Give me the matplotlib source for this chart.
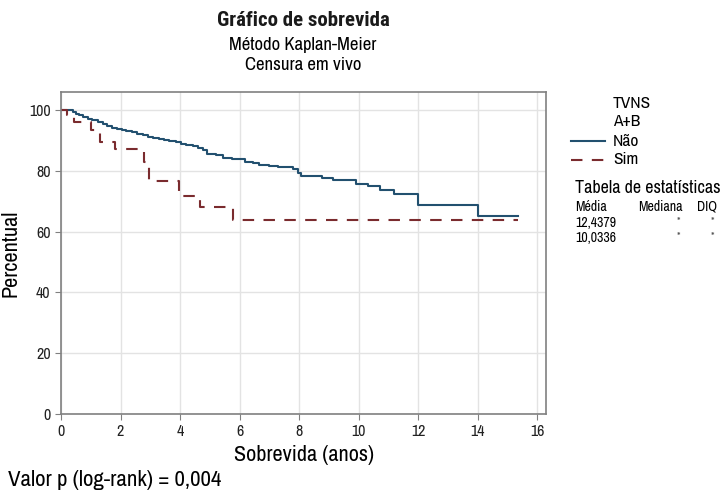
import matplotlib
matplotlib.use('Agg')
import matplotlib.pyplot as plt
from matplotlib.lines import Line2D

plt.rcParams['font.family'] = ['Archivo Narrow', 'Roboto Condensed', 'DejaVu Sans']

# Kaplan-Meier steps (time in years, survival in %)
nao_t = [0, 0.41, 0.52, 0.62, 0.75, 0.9, 1.03, 1.25, 1.4, 1.53, 1.7, 1.87, 2.05, 2.2,
         2.38, 2.54, 2.75, 2.93, 3.1, 3.3, 3.45, 3.64, 3.85, 4.03, 4.2, 4.42, 4.6,
         4.76, 4.92, 5.2, 5.43, 5.76, 6.2, 6.45, 6.65, 7.0, 7.3, 7.8, 7.95, 8.06,
         8.76, 9.15, 9.92, 10.33, 10.72, 11.2, 12.01, 14.03, 15.37]
nao_v = [100, 99.3, 98.9, 98.3, 97.8, 97.2, 96.7, 96.1, 95.4, 94.7, 94.3, 93.9, 93.5, 93.1,
         92.7, 92.3, 91.8, 91.2, 90.9, 90.6, 90.2, 89.8, 89.4, 89.0, 88.6, 88.2, 87.5,
         86.8, 85.6, 85.1, 84.3, 83.8, 83.1, 82.5, 82.1, 81.7, 81.2, 80.5, 79.2, 78.4,
         77.6, 77.0, 75.8, 75.1, 73.6, 72.3, 68.8, 65.1, 65.1]

sim_t = [0, 0.2, 0.45, 1.0, 1.3, 1.8, 2.8, 2.95, 3.97, 4.67, 5.77, 15.37]
sim_v = [100, 98.3, 96.1, 93.6, 89.5, 87.3, 82.9, 76.6, 71.6, 68.2, 63.8, 63.8]

x_ticks = [0, 2, 4, 6, 8, 10, 12, 14, 16]
y_ticks = [0, 20, 40, 60, 80, 100]

stats_media = ['12,4379', '10,0336']

fig = plt.figure(figsize=(7.25, 4.92), dpi=100)
ax = fig.add_axes([61/725, 1-414/492, (546-61)/725, (414-92)/492])

ax.step(nao_t, nao_v, where='post', color='#22506f', lw=1.5)
ax.step(sim_t, sim_v, where='post', color='#7a2b2e', lw=1.5, dashes=(5.5, 4.5))

ax.set_xlim(0, 16.3)
ax.set_ylim(0, 106)
ax.set_xticks(x_ticks)
ax.set_yticks(y_ticks)
ax.grid(True, color='#e3e3e3', lw=1)
ax.set_axisbelow(True)
for s in ax.spines.values():
    s.set_color('#808080')
    s.set_linewidth(1.2)
ax.tick_params(colors='#808080', labelcolor='#222222', labelsize=11.5, length=4)

ax.set_xlabel('Sobrevida (anos)', fontsize=16, labelpad=4)
ax.set_ylabel('Percentual', fontsize=16, labelpad=6)

fig.text(303/725, 1-21/492, 'Gráfico de sobrevida', ha='center', va='center',
         fontsize=15, fontweight='bold', color='#1a1a1a',
         family=['Roboto Condensed', 'DejaVu Sans'])
fig.text(303/725, 1-45/492, 'Método Kaplan-Meier', ha='center', va='center', fontsize=13.5)
fig.text(303/725, 1-65/492, 'Censura em vivo', ha='center', va='center', fontsize=13.5)

fig.text(8/725, 1-480/492, 'Valor p (log-rank) = 0,004', ha='left', va='center', fontsize=16.5)

# legend
fig.text(613/725, 1-103/492, 'TVNS', ha='left', va='center', fontsize=12.5)
fig.text(613/725, 1-122/492, 'A+B', ha='left', va='center', fontsize=12.5)
fig.text(613/725, 1-141/492, 'Não', ha='left', va='center', fontsize=12.5)
fig.text(613/725, 1-160/492, 'Sim', ha='left', va='center', fontsize=12.5)
fig.add_artist(Line2D([571/725, 605/725], [1-141/492, 1-141/492], color='#22506f', lw=1.5))
fig.add_artist(Line2D([571/725, 605/725], [1-160/492, 1-160/492], color='#7a2b2e', lw=1.5,
                      dashes=(5.5, 4.5)))

fig.text(575/725, 1-188/492, 'Tabela de estatísticas', ha='left', va='center', fontsize=13)
fig.text(575/725, 1-207/492, 'Média', ha='left', va='center', fontsize=10)
fig.text(683/725, 1-207/492, 'Mediana', ha='right', va='center', fontsize=10)
fig.text(697/725, 1-207/492, 'DIQ', ha='left', va='center', fontsize=10)
for i, m in enumerate(stats_media):
    y = 1 - (223 + 15*i)/492
    fig.text(575/725, y, m, ha='left', va='center', fontsize=10)
    fig.text(678/725, y + 0.004, '*', ha='center', va='center', fontsize=8, color='#555555')
    fig.text(712/725, y + 0.004, '*', ha='center', va='center', fontsize=8, color='#555555')

fig.savefig('out.png', dpi=100)
